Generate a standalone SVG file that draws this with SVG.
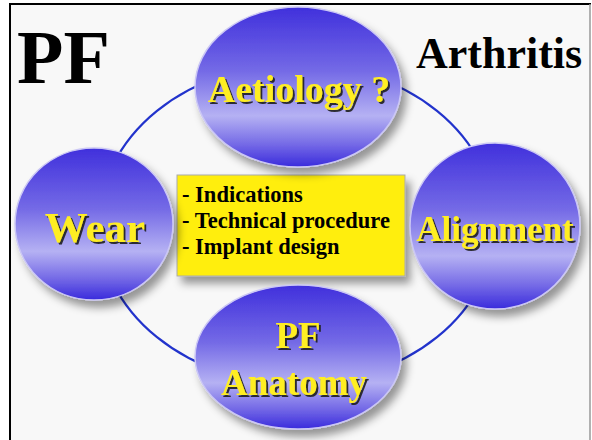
<svg xmlns="http://www.w3.org/2000/svg" width="592" height="440" viewBox="0 0 592 440">
<defs>
<linearGradient id="ball" x1="0" y1="0" x2="0" y2="1">
<stop offset="0" stop-color="#4030dc"/>
<stop offset="0.4" stop-color="#746ae6"/>
<stop offset="0.68" stop-color="#b5b1f3"/>
<stop offset="0.86" stop-color="#7469e6"/>
<stop offset="1" stop-color="#3a2bdc"/>
</linearGradient>
<filter id="shadow" x="-20%" y="-20%" width="150%" height="150%">
<feDropShadow dx="5" dy="7" stdDeviation="4" flood-color="#000" flood-opacity="0.4"/>
</filter>
<filter id="tshadow" x="-10%" y="-20%" width="120%" height="150%">
<feDropShadow dx="2" dy="2" stdDeviation="0.4" flood-color="#1a1a1a" flood-opacity="0.9"/>
</filter>
<style>
.node{fill:url(#ball);stroke:#cbc7f5;stroke-width:1.5;filter:url(#shadow)}
.lbl{font-family:"Liberation Serif",serif;font-weight:bold;fill:#ffee22;text-anchor:middle;filter:url(#tshadow)}
.title{font-family:"Liberation Serif",serif;font-weight:bold;fill:#000}
.item{font-family:"Liberation Serif",serif;font-weight:bold;font-size:22.5px;fill:#000}
</style>
</defs>
<rect x="0" y="0" width="592" height="440" fill="#ffffff"/>
<rect x="10" y="4" width="580" height="440" fill="#f8f8f8"/>
<line x1="10" y1="3" x2="10" y2="440" stroke="#000" stroke-width="2"/>
<line x1="9" y1="4" x2="591" y2="4" stroke="#000" stroke-width="2"/>
<line x1="590" y1="4" x2="590" y2="440" stroke="#999" stroke-width="1.5"/>
<text class="title" x="17" y="83" font-size="76">PF</text>
<text class="title" x="416" y="68" font-size="44">Arthritis</text>
<g id="connectors">
<ellipse cx="297" cy="224" rx="198" ry="160" fill="none" stroke="#2233cc" stroke-width="2.2"/>
</g>
<g id="box">
<rect x="177" y="175" width="228" height="101" fill="#ffee11" stroke="#aaa" stroke-width="1" filter="url(#shadow)"/>
<text class="item" x="182" y="202">- Indications</text>
<text class="item" x="182" y="228">- Technical procedure</text>
<text class="item" x="182" y="254">- Implant design</text>
</g>
<g id="aetiology">
<ellipse class="node" cx="298" cy="87" rx="103" ry="80"/>
<text class="lbl" x="299" y="102" font-size="38">Aetiology ?</text>
</g>
<g id="wear">
<ellipse class="node" cx="94" cy="224" rx="79" ry="76"/>
<text class="lbl" x="95" y="242" font-size="43">Wear</text>
</g>
<g id="alignment">
<ellipse class="node" cx="495" cy="226" rx="85" ry="83"/>
<text class="lbl" x="495" y="241" font-size="35">Alignment</text>
</g>
<g id="anatomy">
<ellipse class="node" cx="298" cy="357" rx="103" ry="72"/>
<text class="lbl" x="298" y="348" font-size="37">PF</text>
<text class="lbl" x="294" y="395" font-size="37">Anatomy</text>
</g>
</svg>
